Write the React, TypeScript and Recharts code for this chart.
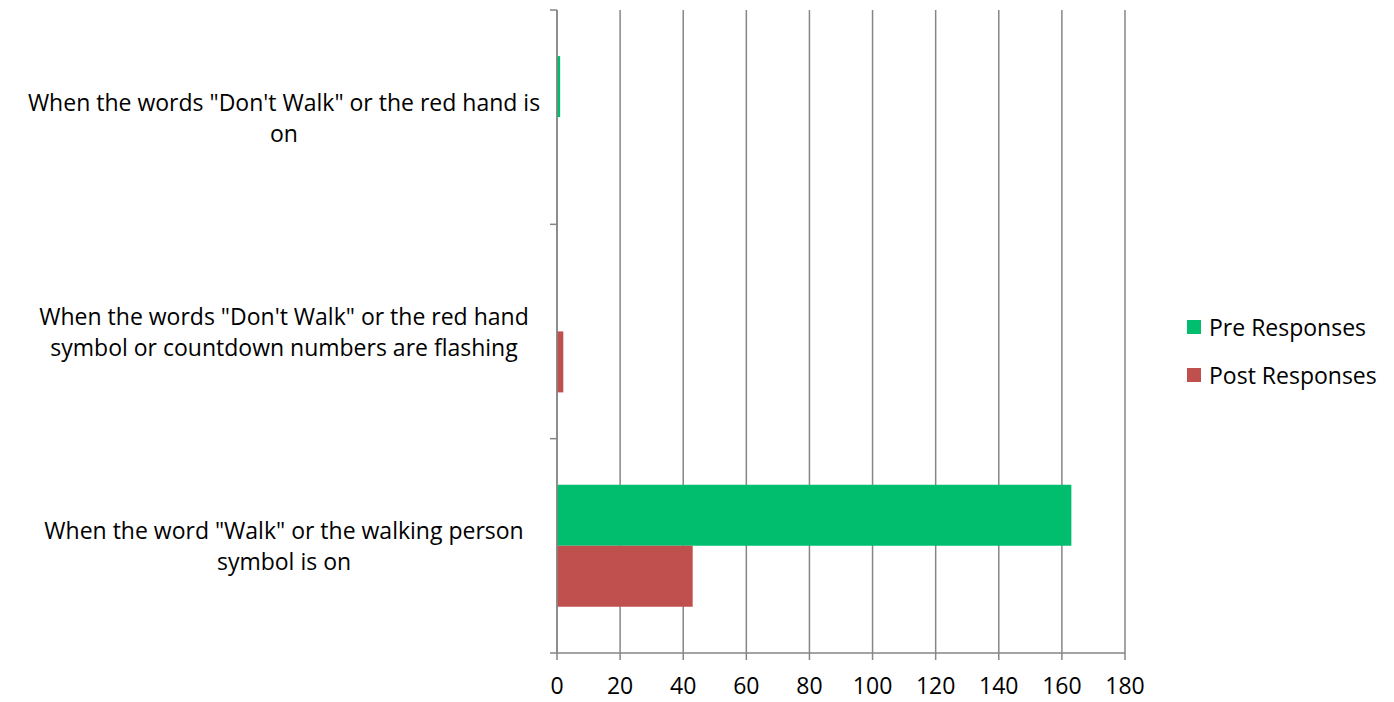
import React from "react";
import {
  BarChart,
  Bar,
  XAxis,
  YAxis,
  CartesianGrid,
  Legend,
} from "recharts";

// categories, top to bottom ("\n" marks the line break used in the original)
const categories = [
  'When the words "Don\'t Walk" or the red hand is\non',
  'When the words "Don\'t Walk" or the red hand\nsymbol or countdown numbers are flashing',
  'When the word "Walk" or the walking person\nsymbol is on',
];
const preResponses = [1, 0, 163];
const postResponses = [0, 2, 43];
const xTicks = [0, 20, 40, 60, 80, 100, 120, 140, 160, 180];

const seriesNames = ["Pre Responses", "Post Responses"];
const colors = ["#00BE6E", "#C0504D"];

const data = categories.map((name, i) => ({
  name,
  pre: preResponses[i],
  post: postResponses[i],
}));

const FONT = "'Open Sans', sans-serif";
const FS = 23;
const AXIS = "#868686";
const AXIS_X = 557;
const BAND = (653 - 10) / categories.length;

function CategoryTick(props: any) {
  const { y, payload, index } = props;
  const lines = String(payload.value).split("\n");
  const lh = 31;
  const top = y - ((lines.length - 1) * lh) / 2;
  return (
    <g>
      <line x1={AXIS_X - 7} x2={AXIS_X} y1={y - BAND / 2} y2={y - BAND / 2} stroke={AXIS} strokeWidth={1.5} />
      {index === categories.length - 1 && (
        <line x1={AXIS_X - 7} x2={AXIS_X} y1={y + BAND / 2} y2={y + BAND / 2} stroke={AXIS} strokeWidth={1.5} />
      )}
      <text
        x={284}
        y={top}
        textAnchor="middle"
        dominantBaseline="central"
        fontFamily={FONT}
        fontSize={FS}
        fill="#000"
      >
        {lines.map((l, i) => (
          <tspan key={i} x={284} dy={i === 0 ? 0 : lh}>
            {l}
          </tspan>
        ))}
      </text>
    </g>
  );
}

function LegendContent() {
  return (
    <div style={{ fontFamily: FONT, fontSize: FS, color: "#000" }}>
      {seriesNames.map((n, i) => (
        <div key={n} style={{ display: "flex", alignItems: "center", height: 48 }}>
          <span
            style={{
              display: "inline-block",
              width: 14,
              height: 14,
              background: colors[i],
              marginRight: 8,
            }}
          />
          {n}
        </div>
      ))}
    </div>
  );
}

export default function App() {
  return (
    <div style={{ position: "absolute", left: 0, top: 0, width: 1394, height: 702, background: "#fff" }}>
      <BarChart
        width={1394}
        height={702}
        data={data}
        layout="vertical"
        margin={{ top: 10, right: 69, left: 0, bottom: 0 }}
        barCategoryGap="21.5%"
        barGap={0}
      >
        <CartesianGrid horizontal={false} stroke={AXIS} strokeWidth={1.5} />
        <XAxis
          type="number"
          domain={[0, 180]}
          ticks={xTicks}
          interval={0}
          height={49}
          stroke={AXIS}
          strokeWidth={1.5}
          tickSize={7}
          tickMargin={18}
          tick={{ fill: "#000", fontSize: FS, fontFamily: FONT }}
        />
        <YAxis
          type="category"
          dataKey="name"
          width={AXIS_X}
          stroke={AXIS}
          strokeWidth={1.5}
          tickLine={false}
          tick={<CategoryTick />}
          interval={0}
        />
        <Legend
          layout="vertical"
          align="right"
          verticalAlign="middle"
          content={<LegendContent />}
          wrapperStyle={{ left: 1187, top: 303, width: 200, height: 96 }}
        />
        <Bar dataKey="pre" name={seriesNames[0]} fill={colors[0]} isAnimationActive={false} />
        <Bar dataKey="post" name={seriesNames[1]} fill={colors[1]} isAnimationActive={false} />
      </BarChart>
    </div>
  );
}
